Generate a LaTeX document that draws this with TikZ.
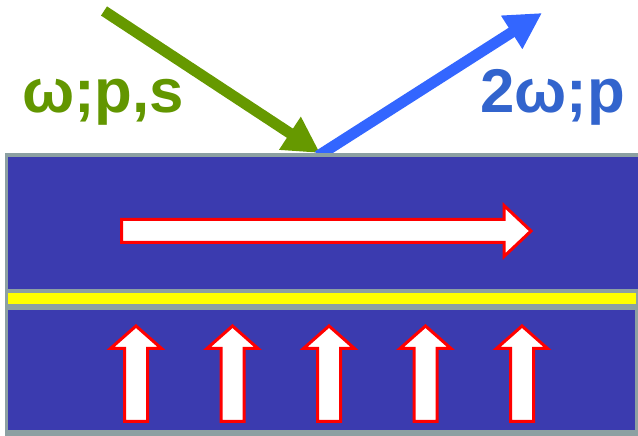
\documentclass[tikz,border=0pt]{standalone}
\usepackage{fontspec}
\setmainfont{Liberation Sans}
\usetikzlibrary{arrows.meta}
\definecolor{layerblue}{RGB}{59,59,175}
\definecolor{edgegray}{RGB}{140,160,162}
\definecolor{beamgreen}{RGB}{102,153,0}
\definecolor{textgreen}{RGB}{98,150,0}
\definecolor{beamblue}{RGB}{51,102,255}
\definecolor{textblue}{RGB}{50,100,205}
\definecolor{stripyellow}{RGB}{255,255,0}
\tikzset{
  spinarrow/.style={draw=red, fill=white, line width=3bp, line join=miter},
  beam/.style={line width=11bp, -{Triangle[length=36bp,width=37bp]}},
  label/.style={font=\fontsize{62}{62}\selectfont\bfseries, inner sep=0pt, anchor=base west}
}
\begin{document}
\begin{tikzpicture}[x=1bp,y=1bp]
\useasboundingbox (0,0) rectangle (638,436);
% beams
\draw[beam, beamgreen] (104,425) -- (320,283);
\draw[beam, beamblue] (318,280) -- (542,423);
% sample
\fill[edgegray] (5,0) rectangle (640,283);
\fill[layerblue] (8,147) rectangle (640,279);
\fill[stripyellow] (8,132) rectangle (636,143);
\fill[layerblue] (8,6) rectangle (635,126);
% in-plane arrow
\draw[spinarrow] (121.5,216.5) -- (504,216.5) -- (504,230.5) -- (531,205) -- (504,179.5) -- (504,193.5) -- (121.5,193.5) -- cycle;
% out-of-plane arrows
\foreach \cx in {136,232.5,329,425.5,522}{
  \draw[spinarrow] (\cx-11.5,14.5) -- (\cx-11.5,87.5) -- (\cx-25.5,87.5) -- (\cx,110) -- (\cx+25.5,87.5) -- (\cx+11.5,87.5) -- (\cx+11.5,14.5) -- cycle;
}
% labels
\node[label, textgreen] (lin) at (22,323) {ω;p,s};
\node[label, textblue] (lout) at (480,323) {2ω;p};
\end{tikzpicture}
\end{document}
